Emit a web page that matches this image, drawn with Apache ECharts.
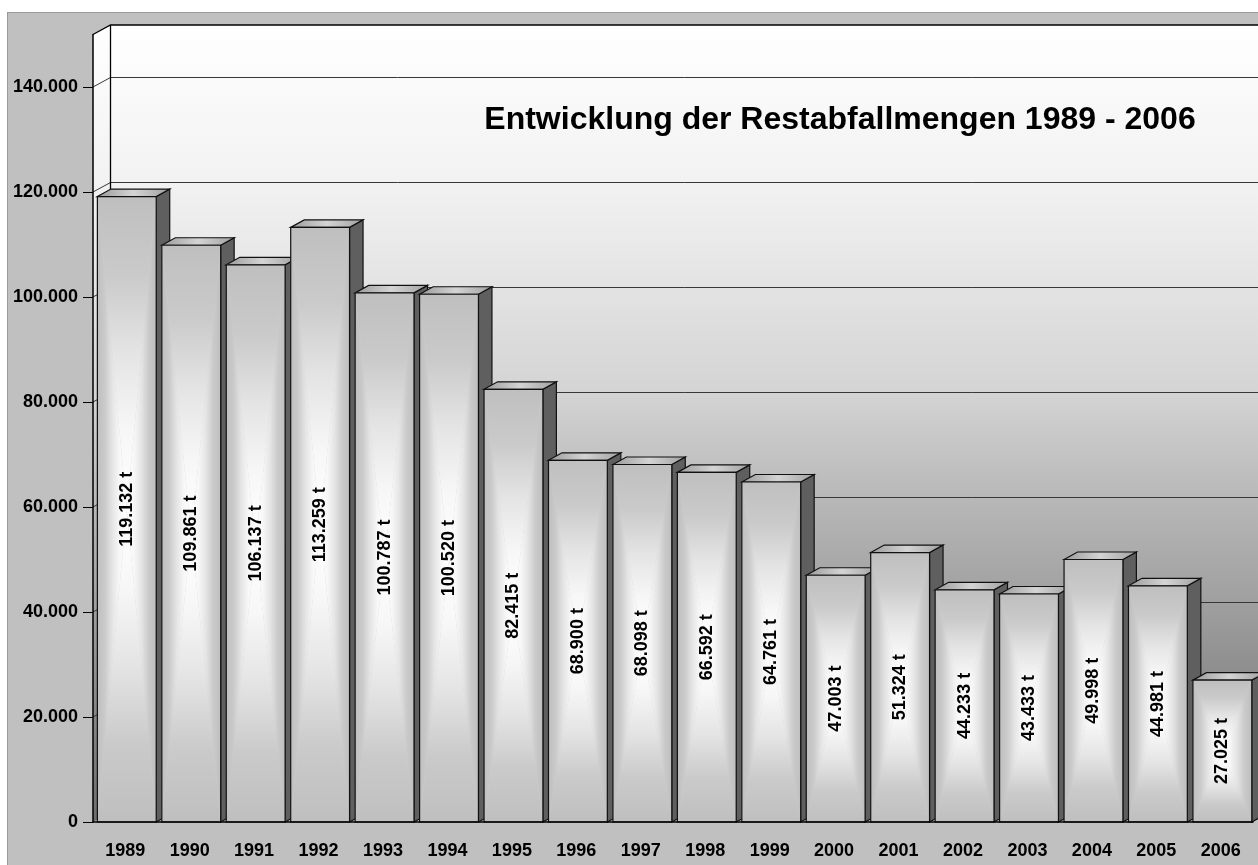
<!DOCTYPE html>
<html lang="de">
<head>
<meta charset="utf-8">
<title>Entwicklung der Restabfallmengen 1989 - 2006</title>
<style>
  html, body { margin: 0; padding: 0; background: #ffffff; }
  #frame { position: absolute; left: 7px; top: 12px; right: 0; bottom: 0; background: #c0c0c0;
           border-left: 1px solid #9a9a9a; border-top: 1px solid #9a9a9a; }
  #chart { position: absolute; left: 0; top: 0; width: 1258px; height: 865px; }
</style>
</head>
<body>
<div id="frame"></div>
<div id="chart"></div>
<script src="https://cdn.jsdelivr.net/npm/echarts@6/dist/echarts.min.js"></script>
<script>
var years = ['1989', '1990', '1991', '1992', '1993', '1994', '1995', '1996', '1997',
             '1998', '1999', '2000', '2001', '2002', '2003', '2004', '2005', '2006'];
var tonnes = [119132, 109861, 106137, 113259, 100787, 100520, 82415, 68900, 68098,
              66592, 64761, 47003, 51324, 44233, 43433, 49998, 44981, 27025];
var yTicks = [0, 20000, 40000, 60000, 80000, 100000, 120000, 140000];
var yMax = 150000;
var titleText = 'Entwicklung der Restabfallmengen 1989 - 2006';

var FONT = '"Liberation Sans", Arial, sans-serif';
var DX = 17.5, DY = -9.5;    // depth of the walls
var BDX = 13.5, BDY = -7.5;  // depth of a bar

// 1234567 -> "1.234.567"
function fmt(v) {
    return String(v).replace(/\B(?=(\d{3})+(?!\d))/g, '.');
}

function wallGrad() {
    return new echarts.graphic.LinearGradient(0, 0, 0, 1, [
        { offset: 0, color: '#ffffff' },
        { offset: 0.2, color: '#f2f2f2' },
        { offset: 0.465, color: '#d4d4d4' },
        { offset: 0.6, color: '#b8b8b8' },
        { offset: 0.73, color: '#a0a0a0' },
        { offset: 0.83, color: '#8c8c8c' },
        { offset: 1, color: '#6e6e6e' }
    ]);
}

// edge -> centre of the "from centre" fill on a bar front
var faceStops = [
    { offset: 0, color: '#bfbfbf' },
    { offset: 0.25, color: '#cacaca' },
    { offset: 0.5, color: '#e4e4e4' },
    { offset: 0.75, color: '#f7f7f7' },
    { offset: 1, color: '#ffffff' }
];
function faceGrad(x, y, x2, y2) {
    return new echarts.graphic.LinearGradient(x, y, x2, y2, faceStops);
}

function renderWalls(params, api) {
    var cs = params.coordSys;
    var left = cs.x, right = cs.x + cs.width + DX + 40;
    var top = api.coord([0, yMax])[1];
    var base = api.coord([0, 0])[1];
    var children = [];
    // back wall
    children.push({
        type: 'polygon',
        shape: { points: [[left + DX, top + DY], [right, top + DY], [right, base + DY], [left + DX, base + DY]] },
        style: { fill: wallGrad() }
    });
    // side wall
    children.push({
        type: 'polygon',
        shape: { points: [[left, top], [left + DX, top + DY], [left + DX, base + DY], [left, base]] },
        style: { fill: wallGrad() }
    });
    yTicks.forEach(function (v) {
        if (v === 0) return;
        var y = api.coord([0, v])[1];
        children.push({
            type: 'polyline',
            shape: { points: [[left, y], [left + DX, y + DY], [right, y + DY]] },
            style: { stroke: '#383838', lineWidth: 1, fill: null }
        });
    });
    children.push({
        type: 'polyline',
        shape: { points: [[left, top], [left + DX, top + DY], [right, top + DY]] },
        style: { stroke: '#000', lineWidth: 1.3, fill: null }
    });
    children.push({
        type: 'line',
        shape: { x1: left + DX, y1: top + DY, x2: left + DX, y2: base + DY },
        style: { stroke: '#000', lineWidth: 1.3 }
    });
    return { type: 'group', children: children };
}

function renderBar(params, api) {
    var i = api.value(0), v = api.value(1);
    var tp = api.coord([i, v]);
    var bp = api.coord([i, 0]);
    var bw = api.size([1, 0])[0];
    var x0 = tp[0] - bw / 2 + bw * 0.068;
    var x1 = x0 + bw * 0.913;
    var yt = tp[1], yb = bp[1];
    var cx = (x0 + x1) / 2, cy = (yt + yb) / 2;
    var edge = { stroke: '#111', lineWidth: 1.2 };
    return {
        type: 'group',
        children: [
            {
                type: 'polygon',
                shape: { points: [[x1, yt], [x1 + BDX, yt + BDY], [x1 + BDX, yb + BDY], [x1, yb]] },
                style: { fill: '#5f5f5f', stroke: edge.stroke, lineWidth: edge.lineWidth }
            },
            {
                type: 'polygon',
                shape: { points: [[x0, yt], [x0 + BDX, yt + BDY], [x1 + BDX, yt + BDY], [x1, yt]] },
                style: {
                    fill: new echarts.graphic.LinearGradient(0, 0, 1, 0, [
                        { offset: 0, color: '#9a9a9a' },
                        { offset: 0.5, color: '#d4d4d4' },
                        { offset: 1, color: '#a0a0a0' }
                    ]),
                    stroke: edge.stroke, lineWidth: edge.lineWidth
                }
            },
            { type: 'rect', shape: { x: x0, y: yt, width: x1 - x0, height: yb - yt }, style: { fill: '#d0d0d0' } },
            { type: 'polygon', shape: { points: [[x0, yt], [cx, cy], [x0, yb]] }, style: { fill: faceGrad(0, 0, 1, 0) } },
            { type: 'polygon', shape: { points: [[x1, yt], [cx, cy], [x1, yb]] }, style: { fill: faceGrad(1, 0, 0, 0) } },
            { type: 'polygon', shape: { points: [[x0, yt], [x1, yt], [cx, cy]] }, style: { fill: faceGrad(0, 0, 0, 1) } },
            { type: 'polygon', shape: { points: [[x0, yb], [x1, yb], [cx, cy]] }, style: { fill: faceGrad(0, 1, 0, 0) } },
            {
                type: 'rect',
                shape: { x: x0, y: yt, width: x1 - x0, height: yb - yt },
                style: { fill: null, stroke: edge.stroke, lineWidth: edge.lineWidth }
            },
            {
                type: 'text',
                x: cx, y: cy, rotation: Math.PI / 2,
                style: {
                    text: fmt(v) + ' t', fill: '#000',
                    font: 'bold 18px ' + FONT,
                    align: 'center', verticalAlign: 'middle'
                }
            }
        ]
    };
}

var chart = echarts.init(document.getElementById('chart'), null, { renderer: 'canvas' });
chart.setOption({
    animation: false,
    backgroundColor: 'transparent',
    title: {
        text: titleText,
        left: 835,
        top: 99,
        textAlign: 'center',
        textStyle: { fontSize: 32, fontWeight: 'bold', color: '#000', fontFamily: FONT }
    },
    grid: { left: 93, right: 5, top: 34.5, bottom: 43 },
    xAxis: {
        type: 'category',
        data: years,
        boundaryGap: true,
        z: 10,
        axisLine: { lineStyle: { color: '#000', width: 1.5 } },
        axisTick: { length: 10, lineStyle: { color: '#444' } },
        axisLabel: { interval: 0, margin: 20, color: '#000', fontSize: 18, fontWeight: 'bold', fontFamily: FONT }
    },
    yAxis: {
        type: 'value',
        min: 0,
        max: yMax,
        interval: 20000,
        z: 10,
        axisLine: { show: true, lineStyle: { color: '#000', width: 1.5 } },
        axisTick: { show: true, length: 10, customValues: yTicks, lineStyle: { color: '#000' } },
        splitLine: { show: false },
        axisLabel: {
            customValues: yTicks, margin: 15, color: '#000',
            fontSize: 18, fontWeight: 'bold', fontFamily: FONT,
            formatter: function (v) { return fmt(v); }
        }
    },
    series: [
        {
            type: 'custom',
            silent: true,
            clip: false,
            z: 1,
            data: [[0, 0]],
            renderItem: renderWalls
        },
        {
            type: 'custom',
            silent: true,
            clip: false,
            z: 2,
            data: tonnes.map(function (v, i) { return [i, v]; }),
            encode: { x: 0, y: 1 },
            renderItem: renderBar
        }
    ]
});
</script>
</body>
</html>
